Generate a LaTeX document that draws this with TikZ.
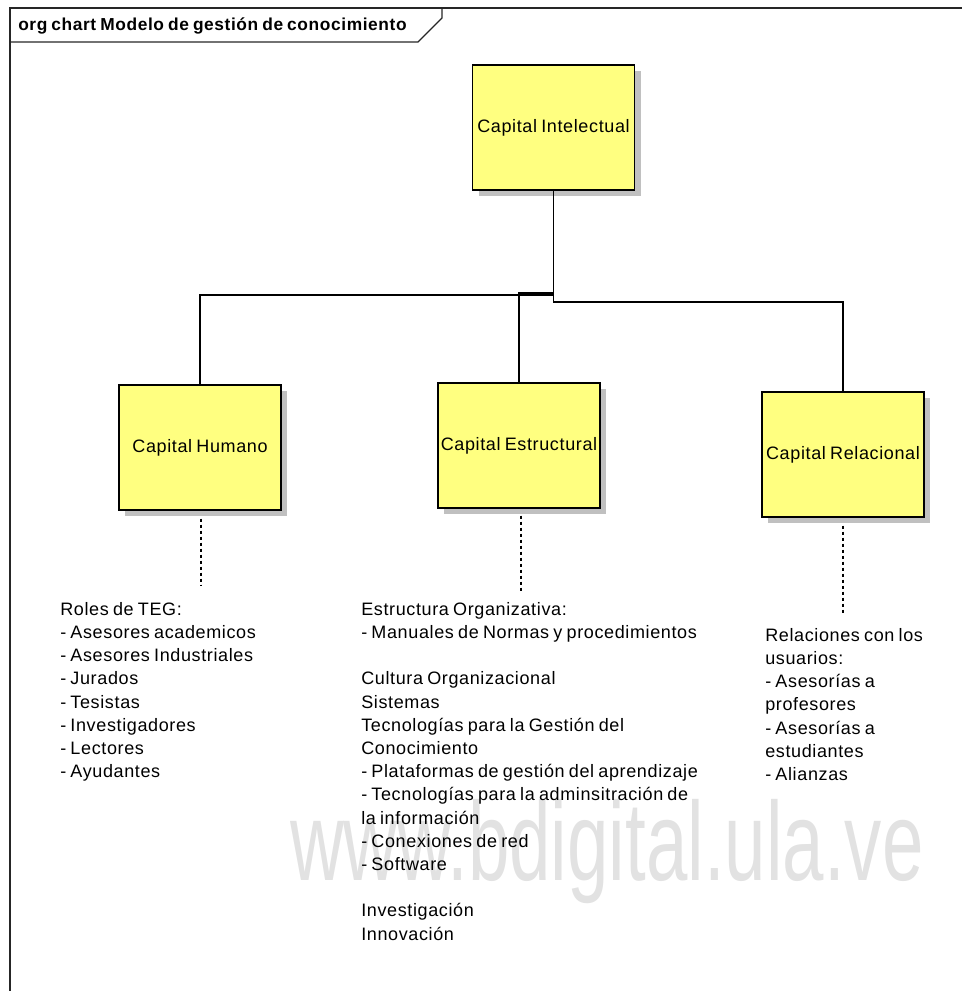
\documentclass[tikz,border=0pt]{standalone}
\usepackage{fontspec}
\setmainfont{Liberation Sans}[WordSpace=0.75, LetterSpace=3.5]
\newfontfamily\markfont{Liberation Sans}
\usetikzlibrary{calc,shadows}
\definecolor{notefill}{RGB}{255,255,128}
\definecolor{shadowgray}{RGB}{192,192,192}
\definecolor{markgray}{RGB}{226,226,226}

\begin{document}
\begin{tikzpicture}[x=0.75pt,y=-0.75pt,
  capbox/.style={draw=black, line width=1pt, fill=notefill,
    minimum width=121.5pt, minimum height=93.75pt, inner sep=0pt,
    font=\fontsize{13.5}{16}\selectfont,
    drop shadow={shadow xshift=4.5pt, shadow yshift=-4.5pt, fill=shadowgray, opacity=1}},
  notetext/.style={anchor=north west, inner sep=0pt, align=left,
    font=\fontsize{13.5}{17.4}\selectfont},
  bus/.style={draw=black, line width=1pt},
  notelink/.style={draw=black, line width=0.8pt, dash pattern=on 2.25pt off 2.25pt},
  framestyle/.style={draw=black!85, line width=1pt}]

\useasboundingbox (0,0) rectangle (961,991);

% watermark behind everything
\node[anchor=base west, inner sep=0pt, text=markgray, xscale=0.665,
  font=\markfont\fontsize{84}{84}\selectfont] (mark) at (290,880) {www.bdigital.ula.ve};

% diagram frame and title tab
\draw[framestyle] (10,1000) -- (10,8) -- (970,8);
\draw[framestyle] (10,42) -- (418,42) -- (442,18) -- (442,8);
\node[anchor=base west, inner sep=0pt, font=\fontsize{13}{15}\selectfont\bfseries] (title) at (18,31)
  {org chart Modelo de gestión de conocimiento};

% organisation boxes
\node[capbox] (ci) at (553.5,127.5) {Capital Intelectual};
\node[capbox] (ch) at (200,447.5) {Capital Humano};
\node[capbox] (ce) at (519,445.5) {Capital Estructural};
\node[capbox] (cr) at (843,454.5) {Capital Relacional};

% bus levels
\coordinate (busR) at (0,302);
\coordinate (busH) at (0,295);
\coordinate (busE) at (0,293);

\draw[bus] (ci.south) -- (ci.south |- busR) -| (cr.north);
\draw[bus] (ci.south |- busH) -| (ch.north);
\draw[bus] (ci.south |- busE) -| (ce.north);

% notes
\node[notetext] (roles) at (60,602) {Roles de TEG:\\- Asesores academicos\\- Asesores Industriales\\- Jurados\\- Tesistas\\- Investigadores\\- Lectores\\- Ayudantes};

\node[notetext] (estr) at (361,602) {Estructura Organizativa:\\- Manuales de Normas y procedimientos\\[17.4pt]Cultura Organizacional\\Sistemas\\Tecnologías para la Gestión del\\Conocimiento\\- Plataformas de gestión del aprendizaje\\- Tecnologías para la adminsitración de\\la información\\- Conexiones de red\\- Software\\[17.4pt]Investigación\\Innovación};

\node[notetext] (rel) at (765,628) {Relaciones con los\\usuarios:\\- Asesorías a\\profesores\\- Asesorías a\\estudiantes\\- Alianzas};

% dotted links from boxes to notes
\draw[notelink] ($(ch.south)+(1,8)$) -- ($(ch.south)+(1,75)$);
\draw[notelink] ($(ce.south)+(2,7)$) -- ($(ce.south)+(2,84)$);
\draw[notelink] ($(cr.south)+(0,8)$) -- ($(cr.south)+(0,95)$);

\end{tikzpicture}
\end{document}
